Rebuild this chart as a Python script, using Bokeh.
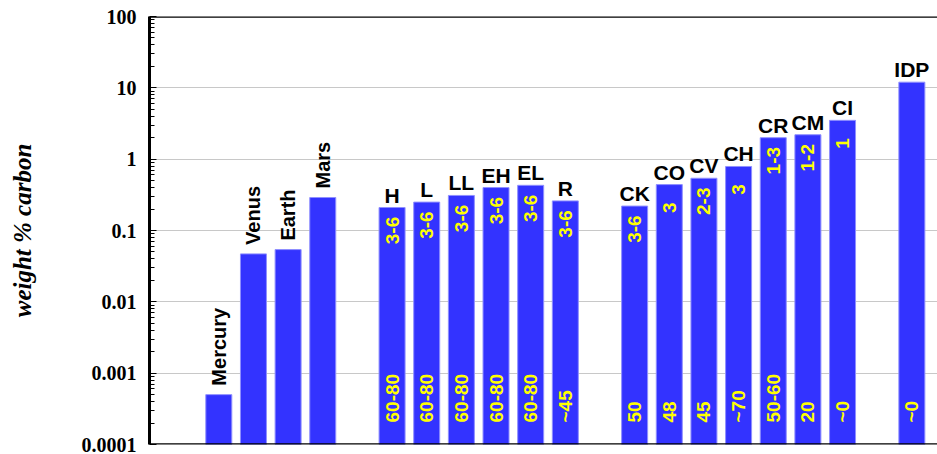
import math
from bokeh.plotting import figure
from bokeh.models import ColumnDataSource, Range1d, FixedTicker, Span
from bokeh.core.properties import value
from bokeh.embed import file_html
from bokeh.resources import INLINE

# ---- data ----
planet_names = ["Mercury", "Venus", "Earth", "Mars"]
planet_carbon = [0.0005, 0.047, 0.054, 0.29]

chondrite_names = ["H", "L", "LL", "EH", "EL", "R"]
chondrite_carbon = [0.21, 0.25, 0.31, 0.40, 0.43, 0.26]
chondrite_type = ["3-6", "3-6", "3-6", "3-6", "3-6", "3-6"]
chondrite_chondrules = ["60-80", "60-80", "60-80", "60-80", "60-80", "~45"]

carb_names = ["CK", "CO", "CV", "CH", "CR", "CM", "CI"]
carb_carbon = [0.22, 0.44, 0.54, 0.79, 2.0, 2.2, 3.5]
carb_type = ["3-6", "3", "2-3", "3", "1-3", "1-2", "1"]
carb_chondrules = ["50", "48", "45", "~70", "50-60", "20", "~0"]

idp_names = ["IDP"]
idp_carbon = [12.0]
idp_chondrules = ["~0"]

y_ticks = [0.0001, 0.001, 0.01, 0.1, 1, 10, 100]
y_tick_labels = ["0.0001", "0.001", "0.01", "0.1", "1", "10", "100"]

# ---- positions (groups separated by one empty slot) ----
def positions(start, n):
    return list(range(start, start + n))

x_pl = positions(0, len(planet_names))
x_ch = positions(x_pl[-1] + 2, len(chondrite_names))
x_cc = positions(x_ch[-1] + 2, len(carb_names))
x_idp = positions(x_cc[-1] + 2, len(idp_names))

BOTTOM = y_ticks[0]

all_x = x_pl + x_ch + x_cc + x_idp
all_y = planet_carbon + chondrite_carbon + carb_carbon + idp_carbon
bars = ColumnDataSource(dict(x=all_x, top=all_y, bottom=[BOTTOM] * len(all_x)))

p = figure(width=937, height=454, y_axis_type="log",
           x_range=Range1d(-2, 20.74), y_range=Range1d(0.0001, 100),
           output_backend="svg", toolbar_location=None,
           min_border_left=149, min_border_right=0,
           min_border_top=16, min_border_bottom=10)
p.outline_line_color = None
p.xaxis.visible = False
p.xgrid.visible = False
p.background_fill_color = "white"
p.border_fill_color = "white"

p.vbar(x="x", top="top", bottom="bottom", width=0.75, source=bars,
       fill_color="#3333ff", line_color="#8f8fff", line_width=1)

# axis
ya = p.yaxis[0]
minor = [k * t for t in y_ticks[:-1] for k in range(2, 10)]
ya.ticker = FixedTicker(ticks=y_ticks, minor_ticks=minor)
ya.major_label_overrides = {t: l for t, l in zip(y_ticks, y_tick_labels)}
ya.major_label_text_font = "Liberation Serif"
ya.major_label_text_font_style = "bold"
ya.major_label_text_font_size = "20px"
ya.major_label_text_color = "black"
ya.major_label_standoff = 13
ya.major_tick_in = 7
ya.major_tick_out = 0
ya.minor_tick_in = 5
ya.minor_tick_out = 0
ya.major_tick_line_color = "black"
ya.minor_tick_line_color = "black"
ya.axis_line_width = 3
ya.axis_line_color = "black"
ya.axis_label = "weight % carbon"
ya.axis_label_text_font = "Liberation Serif"
ya.axis_label_text_font_style = "bold italic"
ya.axis_label_text_font_size = "25px"
ya.axis_label_text_color = "black"
ya.axis_label_standoff = 43

p.ygrid.grid_line_color = "#c8c8c8"
p.ygrid.grid_line_width = 1.2

p.add_layout(Span(location=100, dimension="width", line_color="black", line_width=2.5))
p.add_layout(Span(location=BOTTOM, dimension="width", line_color="black", line_width=2.5))

SANS = value("Liberation Sans")

# planet labels (rotated, above bars)
pl_src = ColumnDataSource(dict(x=x_pl, y=planet_carbon, t=planet_names))
p.text(x="x", y="y", text="t", source=pl_src, angle=math.pi / 2,
       text_align="left", text_baseline="middle", y_offset=-9,
       text_font=SANS, text_font_style="bold",
       text_font_size="20px", text_color="black")

# class labels (horizontal, above bars)
cls_x = x_ch + x_cc + x_idp
cls_y = chondrite_carbon + carb_carbon + idp_carbon
cls_t = chondrite_names + carb_names + idp_names
cls_src = ColumnDataSource(dict(x=cls_x, y=cls_y, t=cls_t))
p.text(x="x", y="y", text="t", source=cls_src,
       text_align="center", text_baseline="bottom", y_offset=-1,
       text_font=SANS, text_font_style="bold",
       text_font_size="21px", text_color="black")

# petrologic type (yellow, top of bars)
tp_src = ColumnDataSource(dict(x=x_ch + x_cc, y=chondrite_carbon + carb_carbon,
                               t=chondrite_type + carb_type))
p.text(x="x", y="y", text="t", source=tp_src, angle=math.pi / 2,
       text_align="center", text_baseline="middle", y_offset=23,
       text_font=SANS, text_font_style="bold",
       text_font_size="19px", text_color="#ffff00")

# chondrule vol% (yellow, bottom of bars)
bt_x = x_ch + x_cc + x_idp
bt_t = chondrite_chondrules + carb_chondrules + idp_chondrules
bt_src = ColumnDataSource(dict(x=bt_x, y=[BOTTOM] * len(bt_x), t=bt_t))
p.text(x="x", y="y", text="t", source=bt_src, angle=math.pi / 2,
       text_align="left", text_baseline="middle", y_offset=-22,
       text_font=SANS, text_font_style="bold",
       text_font_size="19px", text_color="#ffff00")

open("out.html", "w").write(file_html(p, INLINE))
